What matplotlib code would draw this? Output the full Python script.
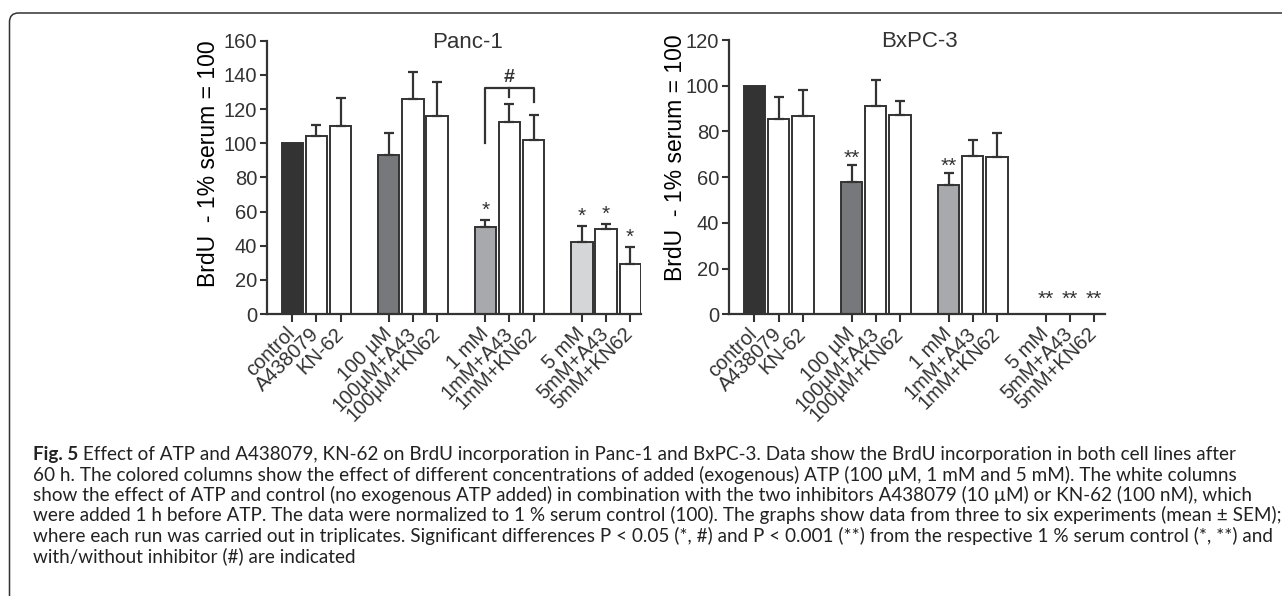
import matplotlib
matplotlib.use("Agg")
import matplotlib.pyplot as plt
from matplotlib.patches import FancyBboxPatch
import numpy as np

# Treatments (x axis), same for both cell lines
labels = [
    "control", "A438079", "KN-62",
    "100 µM", "100µM+A43", "100µM+KN62",
    "1 mM", "1mM+A43", "1mM+KN62",
    "5 mM", "5mM+A43", "5mM+KN62",
]

# Panc-1: BrdU incorporation (1% serum = 100), mean and SEM
panc_mean = [100, 104, 110, 93, 126, 115.7, 50.8, 112.4, 102, 42.3, 49.7, 29.1]
panc_sem = [0, 6.5, 16.5, 12.8, 15.6, 19.9, 4.5, 10.6, 14.6, 9.3, 2.7, 10.3]
panc_sig = ["", "", "", "", "", "", "*", "", "", "*", "*", "*"]

# BxPC-3
bxpc_mean = [100, 85.4, 86.9, 57.8, 91.1, 87.2, 56.5, 69.2, 68.8, 0, 0, 0]
bxpc_sem = [0, 9.6, 11.3, 7.5, 11.2, 6.2, 5.3, 7.0, 10.6, 0, 0, 0]
bxpc_sig = ["", "", "", "**", "", "", "**", "", "", "**", "**", "**"]

caption_lines = [
    " Effect of ATP and A438079, KN-62 on BrdU incorporation in Panc-1 and BxPC-3. Data show the BrdU incorporation in both cell lines after",
    "60 h. The colored columns show the effect of different concentrations of added (exogenous) ATP (100 µM, 1 mM and 5 mM). The white columns",
    "show the effect of ATP and control (no exogenous ATP added) in combination with the two inhibitors A438079 (10 µM) or KN-62 (100 nM), which",
    "were added 1 h before ATP. The data were normalized to 1 % serum control (100). The graphs show data from three to six experiments (mean ± SEM);",
    "where each run was carried out in triplicates. Significant differences P < 0.05 (*, #) and P < 0.001 (**) from the respective 1 % serum control (*, **) and",
    "with/without inhibitor (#) are indicated",
]

# layout / style
positions = [0, 1, 2, 4, 5, 6, 8, 9, 10, 12, 13, 14]
fills = ["#333333", "white", "white", "#77787b", "white", "white",
         "#a7a9ac", "white", "white", "#d5d6d8", "white", "white"]
EDGE = "#333333"
W, H = 1282, 596

plt.rcParams["font.family"] = ["Liberation Sans", "DejaVu Sans"]
plt.rcParams["text.color"] = EDGE


def draw_panel(ax, mean, sem, sig, ymax, title, title_x, star_pad, label_xy):
    mean = np.array(mean, dtype=float)
    sem = np.array(sem, dtype=float)
    pos = np.array(positions)
    ax.bar(pos, mean, width=0.88, color=fills, edgecolor=EDGE,
           linewidth=1.4, zorder=2)
    has_err = sem > 0
    ax.errorbar(pos[has_err], mean[has_err],
                yerr=[np.zeros(has_err.sum()), sem[has_err]],
                fmt="none", ecolor=EDGE, elinewidth=1.6, capsize=3.5,
                capthick=1.6, zorder=3)
    for x, m, e, s in zip(pos, mean, sem, sig):
        if s:
            pad = star_pad if e > 0 else star_pad + 6
            ax.annotate(s, (x, m + e), xytext=(0, pad),
                        textcoords="offset points", ha="center",
                        va="baseline", fontsize=15)
    ax.set_xlim(-1.05, 14.45)
    ax.set_ylim(0, ymax)
    ax.set_yticks(np.arange(0, ymax + 1, 20))
    ax.set_xticks(pos)
    ax.set_xticklabels(labels, rotation=45, ha="right", va="center",
                       rotation_mode="anchor", fontsize=14.5)
    ax.tick_params(axis="y", labelsize=14.5, length=5, width=1.5,
                   color=EDGE, labelcolor=EDGE, pad=2)
    ax.tick_params(axis="x", length=6, width=1.5, color=EDGE,
                   labelcolor=EDGE, pad=6)
    for side in ["top", "right"]:
        ax.spines[side].set_visible(False)
    for side in ["left", "bottom"]:
        ax.spines[side].set_linewidth(1.6)
        ax.spines[side].set_color(EDGE)
    ax.set_ylabel("BrdU  - 1% serum = 100", fontsize=16.5)
    ax.yaxis.set_label_coords(*label_xy)
    ax.text(title_x, ymax * 0.993, title, ha="center", va="center",
            fontsize=16)
    ax.patch.set_alpha(0)


fig = plt.figure(figsize=(W / 100, H / 100), dpi=100)

ax1 = fig.add_axes([267 / W, 1 - 314 / H, 374 / W, 273.3 / H])
draw_panel(ax1, panc_mean, panc_sem, panc_sig, 160, "Panc-1", 7.28, 3,
           (-0.127, 0.549))

# bracket: 1 mM vs inhibitors
ax1.plot([8, 8, 10, 10], [100, 132.3, 132.3, 124.2], color=EDGE, lw=1.6)
ax1.plot([9, 9], [132.3, 127], color=EDGE, lw=1.6)
ax1.text(9, 138.7, "#", ha="center", va="center", fontsize=14,
         fontweight="bold")

ax2 = fig.add_axes([729 / W, 1 - 314.3 / H, 376 / W, 274.3 / H])
draw_panel(ax2, bxpc_mean, bxpc_sem, bxpc_sig, 120, "BxPC-3", 6.78, 1,
           (-0.113, 0.57))

# frame around figure + caption (open at right and bottom)
frame = FancyBboxPatch((9.5, -20), 1320, H - 13 + 20,
                       boxstyle="round,pad=0,rounding_size=9",
                       transform=None, fill=False, edgecolor=EDGE, lw=1.1)
fig.patches.append(frame)

# caption, font size fitted so the longest full line fits the width
renderer = fig.canvas.get_renderer()
cap_font = ["Lato", "Open Sans", "DejaVu Sans"]
widths = []
for line in ["Fig. 5" + caption_lines[0]] + caption_lines[1:5]:
    probe = fig.text(0, 0, line, fontsize=13, family=cap_font)
    widths.append(probe.get_window_extent(renderer).width)
    probe.remove()
cap_size = 13 * 1238 / max(widths)

x0 = 33
baselines = [460 + 20.5 * i for i in range(len(caption_lines))]
for i, line in enumerate(caption_lines):
    y = 1 - baselines[i] / H
    if i == 0:
        t = fig.text(x0 / W, y, "Fig. 5", fontsize=cap_size, family=cap_font,
                     fontweight="bold", va="baseline", color="#222222")
        x1 = t.get_window_extent(renderer).x1
        fig.text(x1 / W, y, line, fontsize=cap_size, family=cap_font,
                 va="baseline", color="#222222")
    else:
        fig.text(x0 / W, y, line, fontsize=cap_size, family=cap_font,
                 va="baseline", color="#222222")

fig.savefig("out.png", dpi=100)
